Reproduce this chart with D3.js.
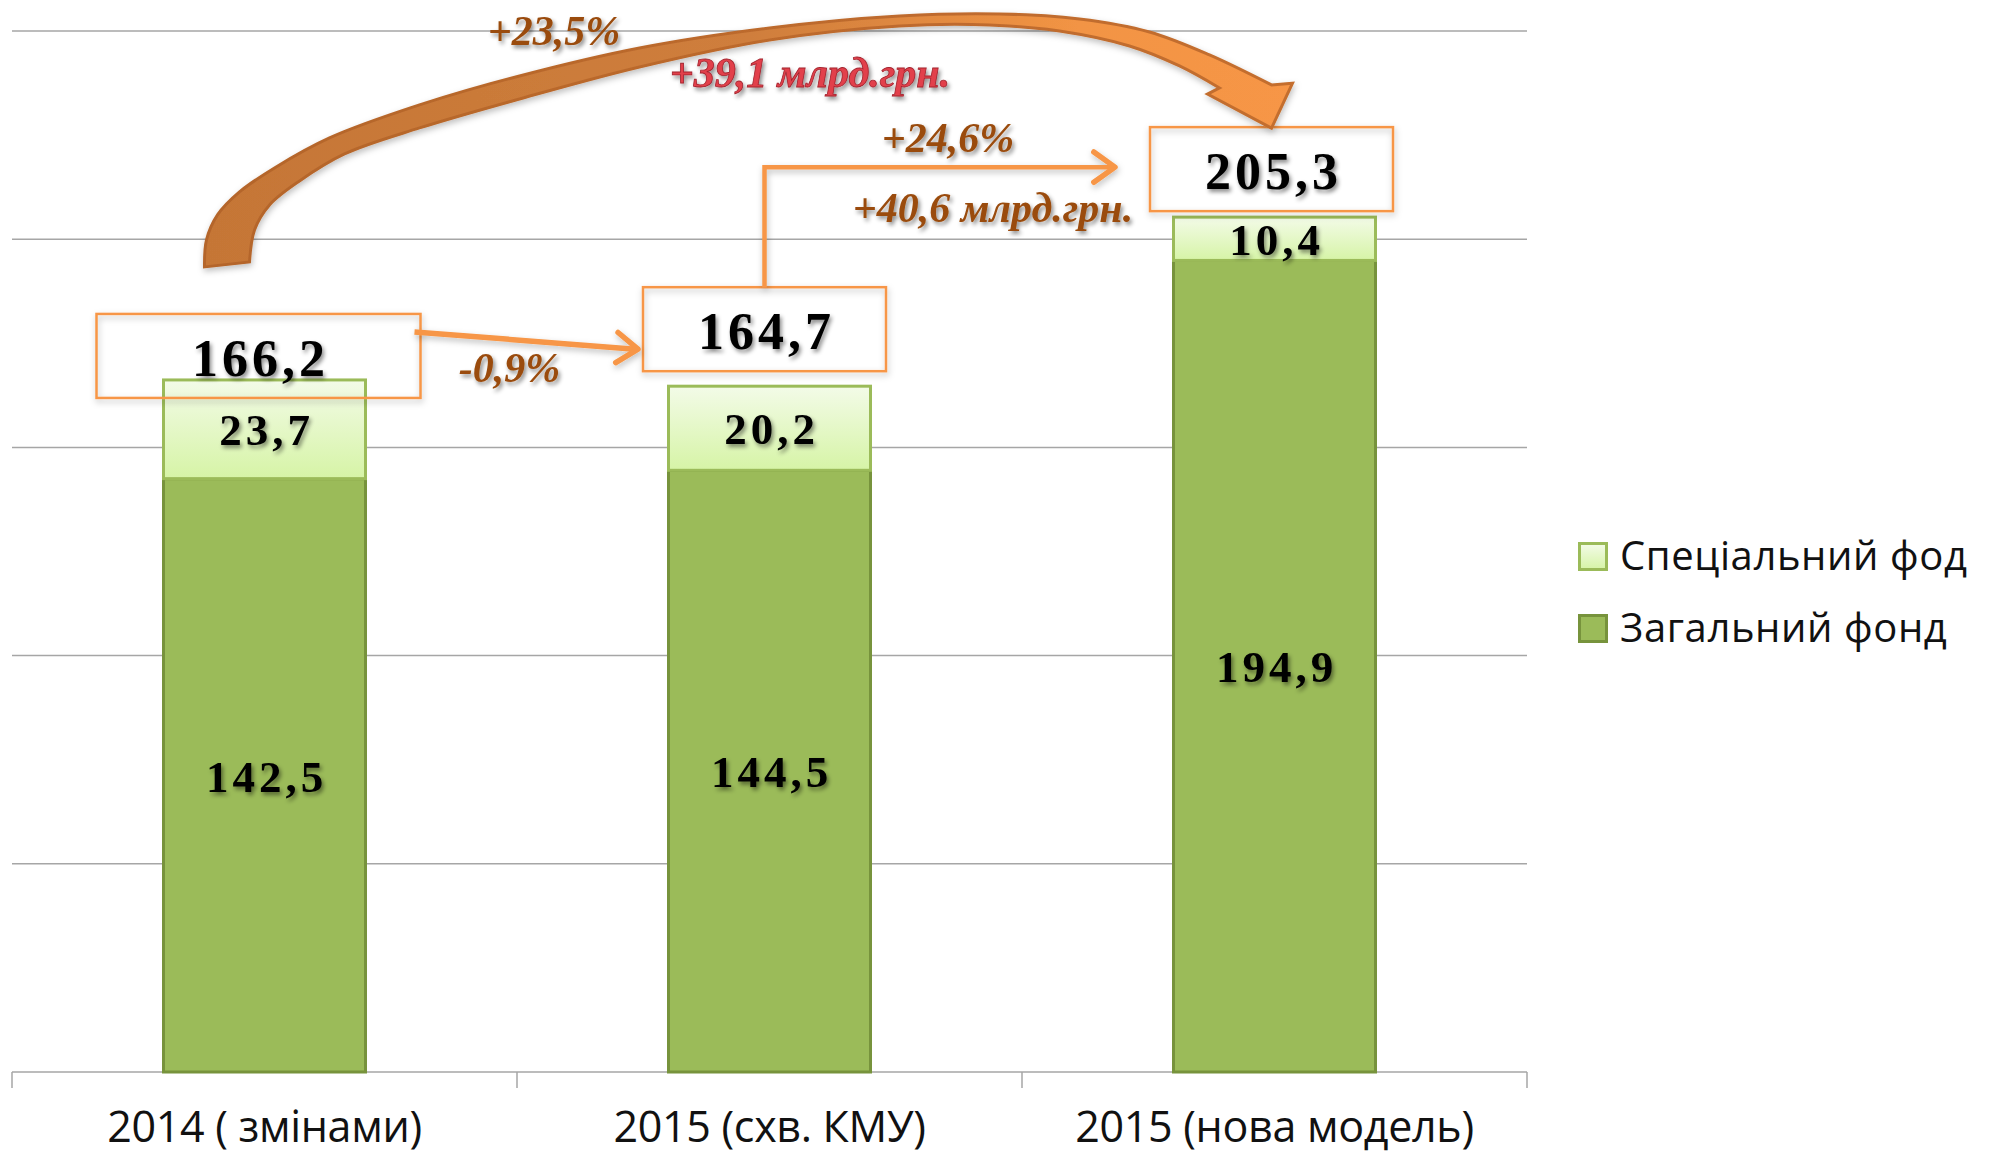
<!DOCTYPE html>
<html>
<head>
<meta charset="utf-8">
<script src="https://cdn.jsdelivr.net/npm/d3@7"></script>
<style>
  body { margin: 0; background: #fff; }
  svg { display: block; }
</style>
</head>
<body>
<div id="chart"></div>
<script>
// data
var categories = ["2014 ( змінами)", "2015 (схв. КМУ)", "2015 (нова модель)"]
var generalFund = [142.5, 144.5, 194.9]
var specialFund = [23.7, 20.2, 10.4]
var seriesNames = ["Спеціальний фод", "Загальний фонд"]
var yTicks = [0, 50, 100, 150, 200, 250]
var changeLabels = ["-0,9%", "+24,6%", "+40,6 млрд.грн.", "+23,5%", "+39,1 млрд.грн."]

var width = 1991
var height = 1156
var plot = {left: 12, right: 1527, top: 31, bottom: 1072}

var fmt = function(v){ return d3.format(".1f")(v).replace(".", ",") }

var rows = categories.map(function(c, i){
    return {cat: c, general: generalFund[i], special: specialFund[i]}
})
var totals = rows.map(d => d.general + d.special)

var svg = d3.select("#chart")
    .append("svg")
        .attr("width", width)
        .attr("height", height)

var defs = svg.append("defs")

// soft shadow for text and boxes
var sh = defs.append("filter").attr("id", "shadow")
    .attr("x", "-20%").attr("y", "-30%").attr("width", "150%").attr("height", "170%")
sh.append("feDropShadow")
    .attr("dx", 2).attr("dy", 3).attr("stdDeviation", 2)
    .attr("flood-color", "#000").attr("flood-opacity", 0.45)

var bsh = defs.append("filter").attr("id", "boxShadow")
    .attr("x", "-10%").attr("y", "-20%").attr("width", "130%").attr("height", "150%")
bsh.append("feDropShadow")
    .attr("dx", 1).attr("dy", 3).attr("stdDeviation", 3)
    .attr("flood-color", "#000").attr("flood-opacity", 0.25)

// light green fill of the special fund
var gSpec = defs.append("linearGradient").attr("id", "specGrad")
    .attr("x1", 0).attr("y1", 0).attr("x2", 0).attr("y2", 1)
gSpec.append("stop").attr("offset", "0%").attr("stop-color", "#F3FBE8")
gSpec.append("stop").attr("offset", "100%").attr("stop-color", "#D6F4A6")

// big curved arrow colours
var gArrow = defs.append("linearGradient").attr("id", "arrowGrad")
    .attr("gradientUnits", "userSpaceOnUse")
    .attr("x1", 200).attr("y1", 0).attr("x2", 1300).attr("y2", 0)
gArrow.append("stop").attr("offset", "0%").attr("stop-color", "#C57636")
gArrow.append("stop").attr("offset", "50%").attr("stop-color", "#CF7E3C")
gArrow.append("stop").attr("offset", "80%").attr("stop-color", "#F29444")
gArrow.append("stop").attr("offset", "100%").attr("stop-color", "#F79646")
var gArrowS = defs.append("linearGradient").attr("id", "arrowStroke")
    .attr("gradientUnits", "userSpaceOnUse")
    .attr("x1", 200).attr("y1", 0).attr("x2", 1300).attr("y2", 0)
gArrowS.append("stop").attr("offset", "0%").attr("stop-color", "#B4652B")
gArrowS.append("stop").attr("offset", "100%").attr("stop-color", "#C46E2E")

// scales
var x = d3.scaleBand()
    .domain(categories)
    .range([plot.left, plot.right])
    .paddingInner(0.6)
    .paddingOuter(0.3)

var y = d3.scaleLinear()
    .domain([0, 250])
    .range([plot.bottom, plot.top])

var step = x.step()
var bw = x.bandwidth()
var cx = c => x(c) + bw / 2

// gridlines
svg.append("g")
    .selectAll("line")
    .data(yTicks.slice(1))
    .enter()
    .append("line")
        .attr("x1", plot.left)
        .attr("x2", plot.right)
        .attr("y1", d => y(d))
        .attr("y2", d => y(d))
        .attr("stroke", "#A6A6A6")
        .attr("stroke-width", 1.5)

// x axis line + separators between categories
var xAxis = svg.append("g")
xAxis.append("line")
    .attr("x1", plot.left).attr("x2", plot.right)
    .attr("y1", y(0)).attr("y2", y(0))
    .attr("stroke", "#A6A6A6").attr("stroke-width", 1.5)
xAxis.selectAll(".sep")
    .data(d3.range(categories.length + 1))
    .enter()
    .append("line")
        .attr("x1", i => plot.left + i * step)
        .attr("x2", i => plot.left + i * step)
        .attr("y1", y(0))
        .attr("y2", y(0) + 16)
        .attr("stroke", "#A6A6A6").attr("stroke-width", 1.5)
xAxis.selectAll("text")
    .data(categories)
    .enter()
    .append("text")
        .attr("x", d => cx(d))
        .attr("y", y(0) + 70)
        .attr("text-anchor", "middle")
        .style("font-family", "'Open Sans', sans-serif")
        .style("font-size", "43px")
        .style("letter-spacing", "-0.3px")
        .style("fill", "#111")
        .text(d => d)

// stacked bars
var stack = d3.stack().keys(["general", "special"])
var layers = stack(rows)

var barG = svg.append("g")
    .selectAll("g")
    .data(layers)
    .enter()
    .append("g")
        .attr("fill", d => d.key == "general" ? "#9BBB59" : "url(#specGrad)")
        .attr("stroke", d => d.key == "general" ? "#77933C" : "#9BBB59")
        .attr("stroke-width", 3)

barG.selectAll("rect")
    .data(d => d)
    .enter()
    .append("rect")
        .attr("x", d => x(d.data.cat))
        .attr("y", d => y(d[1]))
        .attr("width", bw)
        .attr("height", d => y(d[0]) - y(d[1]))

// values inside segments
layers.forEach(function(layer){
    svg.append("g")
        .selectAll("text")
        .data(layer)
        .enter()
        .append("text")
            .attr("x", d => cx(d.data.cat) + 2)
            .attr("y", d => (y(d[0]) + y(d[1])) / 2)
            .attr("dy", "0.36em")
            .attr("text-anchor", "middle")
            .attr("filter", "url(#shadow)")
            .style("font-family", "'Liberation Serif', serif")
            .style("font-weight", "bold")
            .style("font-size", "45px")
            .style("letter-spacing", "4px")
            .style("fill", "#000")
            .text(d => fmt(d[1] - d[0]))
})

// total boxes (placed relative to bar top)
var boxLayout = [{w: 324, dx: -6, lift: -18}, {w: 243, dx: -5, lift: 15}, {w: 243, dx: -3, lift: 6}]
var boxH = 84
var boxes = categories.map(function(c, i){
    var L = boxLayout[i]
    var bx = cx(c) + L.dx - L.w / 2
    var by = y(totals[i]) - L.lift - boxH
    return {x: bx, y: by, w: L.w, h: boxH, v: totals[i]}
})

svg.append("g")
    .selectAll("rect")
    .data(boxes)
    .enter()
    .append("rect")
        .attr("x", d => d.x)
        .attr("y", d => d.y)
        .attr("width", d => d.w)
        .attr("height", d => d.h)
        .attr("fill", "none")
        .attr("stroke", "#F79646")
        .attr("stroke-width", 2.5)
        .attr("filter", "url(#boxShadow)")

svg.append("g")
    .selectAll("text")
    .data(boxes)
    .enter()
    .append("text")
        .attr("x", d => d.x + d.w / 2 + 2)
        .attr("y", d => d.y + d.h - 22)
        .attr("text-anchor", "middle")
        .attr("filter", "url(#shadow)")
        .style("font-family", "'Liberation Serif', serif")
        .style("font-weight", "bold")
        .style("font-size", "52px")
        .style("letter-spacing", "4px")
        .style("fill", "#000")
        .text(d => fmt(d.v))

//// annotations ////
var b1 = boxes[0], b2 = boxes[1], b3 = boxes[2]
var orange = "#F79646"
var brown = "#9A4B0C"

function chevron(g, tipX, tipY, angle){
    // open arrow head, angle = direction of travel (radians)
    var len = 26, spread = 0.62
    var p1 = [tipX - len * Math.cos(angle - spread), tipY - len * Math.sin(angle - spread)]
    var p2 = [tipX - len * Math.cos(angle + spread), tipY - len * Math.sin(angle + spread)]
    g.append("path")
        .attr("d", "M" + p1 + "L" + [tipX, tipY] + "L" + p2)
        .attr("fill", "none")
        .attr("stroke", orange)
        .attr("stroke-width", 5.5)
        .attr("stroke-linecap", "round")
        .attr("stroke-linejoin", "round")
}

var ann = svg.append("g").attr("filter", "url(#boxShadow)")

// arrow 166,2 -> 164,7
var a1s = [b1.x + b1.w - 6, b1.y + 18]
var a1e = [b2.x - 5, b2.y + 62]
ann.append("line")
    .attr("x1", a1s[0]).attr("y1", a1s[1])
    .attr("x2", a1e[0] - 3).attr("y2", a1e[1])
    .attr("stroke", orange).attr("stroke-width", 5.5)
chevron(ann, a1e[0], a1e[1], Math.atan2(a1e[1] - a1s[1], a1e[0] - a1s[0]))

// elbow arrow 164,7 -> 205,3
var a2y = b3.y + 40
var a2x = b3.x - 35
ann.append("path")
    .attr("d", "M" + [b2.x + b2.w / 2, b2.y] + "V" + a2y + "H" + (a2x - 3))
    .attr("fill", "none")
    .attr("stroke", orange).attr("stroke-width", 4.5)
chevron(ann, a2x, a2y, 0)

// big curved arrow 166,2 -> 205,3
var ox = b1.x + 108, oy = b1.y - 47     // tail, outer corner
var tip = [b3.x + b3.w / 2, b3.y + 1]
var outerPts = [[0,0],[2,-27],[13,-52],[35,-75],[70,-99],[125,-129],[215,-162],[315,-191],
    [435,-219],[565,-239],[695,-251],[795,-253],[875,-248],[945,-235],[1005,-212],[1067,-182]]
var innerPts = [[1015,-179],[975,-201],[925,-221],[855,-236],[785,-242],[695,-241],[565,-227],
    [435,-200],[315,-168],[215,-139],[140,-113],[95,-86],[65,-62],[50,-37],[45,-5]]
var curve = d3.line().curve(d3.curveCatmullRom.alpha(0.5))
var shift = p => [ox + p[0], oy + p[1]]
var outerD = curve(outerPts.map(shift))
var innerD = curve(innerPts.map(shift))
var headD = "L" + [tip[0] + 21, tip[1] - 45] + "L" + tip + "L" + [tip[0] - 64, tip[1] - 34] + "L"
svg.append("path")
    .attr("d", outerD + headD + innerD.slice(1) + "Z")
    .attr("fill", "url(#arrowGrad)")
    .attr("stroke", "url(#arrowStroke)")
    .attr("stroke-width", 3)
    .attr("stroke-linejoin", "miter")
    .attr("filter", "url(#boxShadow)")

// change labels
var italicStyle = function(sel, size, color){
    sel.attr("text-anchor", "middle")
        .attr("filter", "url(#shadow)")
        .style("font-family", "'Liberation Serif', serif")
        .style("font-weight", "bold")
        .style("font-style", "italic")
        .style("font-size", size + "px")
        .style("fill", color)
}
var labelPos = [
    {x: b1.x + b1.w + 89, y: b1.y + 68, c: brown},
    {x: b3.x - 202, y: b3.y + 25, c: brown},
    {x: b3.x - 157, y: b3.y + 95, c: brown},
    {x: b3.x - 596, y: b3.y - 82, c: brown},
    {x: b3.x - 340, y: b3.y - 40, c: "#E2414B"}
]
changeLabels.forEach(function(t, i){
    var p = labelPos[i]
    var tx = svg.append("text")
        .attr("x", p.x)
        .attr("y", p.y)
        .text(t)
    italicStyle(tx, 42, p.c)
    if (i == 4) tx.attr("stroke", "#A3232E").attr("stroke-width", 0.8)
})

//// legend ////
var legend = svg.append("g").attr("transform", "translate(1578,542)")
var legItems = legend.selectAll("g")
    .data(seriesNames)
    .enter()
    .append("g")
        .attr("transform", (d, i) => "translate(0," + i * 72 + ")")
legItems.append("rect")
    .attr("x", 1.5).attr("y", 1.5)
    .attr("width", 27).attr("height", 26)
    .attr("fill", (d, i) => i == 0 ? "url(#specGrad)" : "#9BBB59")
    .attr("stroke", (d, i) => i == 0 ? "#9BBB59" : "#77933C")
    .attr("stroke-width", 3)
legItems.append("text")
    .attr("x", 42)
    .attr("y", 28)
    .style("font-family", "'Open Sans', sans-serif")
    .style("font-size", "40px")
    .style("letter-spacing", "0.6px")
    .style("fill", "#111")
    .text(d => d)
</script>
</body>
</html>
